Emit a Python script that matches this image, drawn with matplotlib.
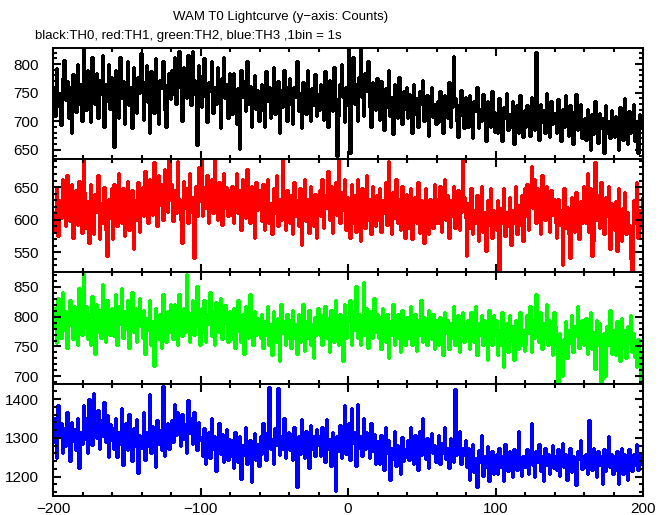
import numpy as np
import matplotlib.pyplot as plt
from matplotlib.ticker import MultipleLocator

plt.rcParams['font.family'] = ['Liberation Sans', 'DejaVu Sans']

# time axis: 1 s bins from -200 s to +200 s
t_edges = np.arange(-200, 201)

th0 = """
757 710 793 750 725 693 775 807 737 770 705 760 680 783 747 717 800 730 765 700
835 767 720 790 745 698 812 760 730 785 705 772 748 815 690 765 735 800 722 778
725 655 790 762 705 812 740 770 695 748 805 728 760 688 795 742 715 778 750 820
770 702 745 798 733 680 788 752 715 810 740 695 772 758 805 720 690 765 785 738
790 748 812 730 775 822 758 700 795 768 740 815 785 728 823 772 745 658 798 760
725 780 810 742 698 768 752 805 715 760 730 795 748 688 775 812 740 765 705 785
760 712 785 738 695 758 652 790 742 770 718 805 730 762 690 748 780 722 755 700
718 765 742 690 788 735 760 705 748 795 712 738 770 680 755 725 790 745 700 762
775 730 695 760 742 805 718 750 688 768 735 712 790 745 700 758 728 782 710 748
720 765 745 702 788 735 690 772 750 718 795 740 640 710 765 800 742 698 760 728
835 645 790 812 730 765 700 778 830 742 710 785 752 805 725 690 768 745 720 775
748 702 770 735 685 758 725 790 710 742 678 765 730 705 778 745 695 752 722 760
705 748 728 680 765 712 740 690 752 730 772 700 718 745 675 738 760 708 730 695
735 698 752 715 680 745 728 705 768 690 725 814 740 700 672 730 755 710 688 742
728 690 745 705 670 735 718 760 688 722 700 748 712 665 735 705 690 752 718 682
715 680 740 698 665 725 705 750 685 712 690 735 660 708 728 680 745 702 672 720
690 728 700 675 742 712 685 821 705 668 730 698 720 680 750 705 672 735 695 715
715 680 738 700 665 722 690 745 705 675 728 692 660 718 748 685 705 730 670 700
705 668 722 690 650 712 678 735 695 662 715 688 705 645 728 680 700 670 720 685
672 710 685 650 725 695 668 740 700 660 718 680 695 730 665 700 645 712 688 705
"""

th1 = """
612 585 648 575 630 602 662 620 590 668 635 598 655 572 618 645 592 660 608 580
693 642 588 628 565 655 600 578 640 612 668 570 625 595 650 585 545 632 602 648
570 655 612 590 672 625 595 648 575 635 660 585 618 645 555 630 600 658 582 625
650 605 675 628 595 662 640 608 688 632 590 668 622 655 600 678 640 612 693 630
655 598 645 610 690 632 600 565 660 618 648 595 672 612 635 542 652 605 680 628
693 605 650 618 668 595 640 662 610 693 630 600 658 635 592 672 618 650 605 645
608 652 595 635 672 610 645 585 662 628 602 678 618 595 652 635 572 658 615 645
635 598 655 585 628 662 595 625 578 648 610 668 590 632 600 693 620 585 645 608
595 638 578 658 605 630 590 648 562 622 662 598 632 580 652 608 590 640 572 625
645 605 662 588 638 618 675 600 652 580 632 658 608 693 595 642 615 662 585 635
630 572 655 595 638 582 662 605 568 648 615 588 668 600 632 578 652 610 590 638
600 648 582 630 610 658 592 690 618 578 642 602 662 595 632 585 652 612 572 640
625 588 648 570 618 635 595 658 580 630 605 565 648 600 578 632 610 588 655 595
632 595 652 582 620 662 600 638 572 630 605 652 588 628 645 585 612 693 635 602
545 625 588 648 578 615 595 638 568 622 652 582 612 552 630 592 648 572 615 595
585 630 522 618 595 648 575 612 590 635 562 615 595 652 578 622 592 638 568 648
605 655 585 640 682 618 662 595 648 608 578 668 625 600 652 615 582 645 608 632
595 572 632 592 615 530 648 588 620 578 542 635 600 582 642 608 570 628 595 652
630 595 672 582 648 545 568 688 600 638 588 658 615 578 635 605 652 555 625 595
585 628 552 648 598 568 618 642 578 612 592 540 522 630 595 658 572 615 588 635
"""

th2 = """
782 815 755 832 798 765 842 778 810 748 802 828 785 762 818 792 752 848 798 770
875 782 818 762 805 752 835 795 738 822 775 812 765 855 790 758 828 802 770 815
802 768 838 752 818 788 848 765 810 780 828 748 802 842 775 815 758 798 832 785
765 812 738 798 778 828 752 792 718 815 782 762 805 748 838 790 758 810 775 822
805 762 822 782 752 838 795 768 815 775 872 808 758 792 828 770 802 852 782 752
815 775 828 758 805 788 842 768 810 752 825 795 775 832 762 802 820 788 758 810
798 762 815 748 792 828 775 758 805 738 818 782 765 838 790 752 810 770 798 775
765 805 748 792 770 818 752 788 735 810 778 758 798 725 822 772 792 752 805 765
795 748 812 765 788 738 805 758 782 822 742 792 765 812 752 788 730 800 770 815
770 805 752 792 818 765 798 740 812 785 758 828 780 752 805 792 725 822 765 800
792 828 752 810 778 852 765 805 752 798 858 770 815 748 792 810 765 832 775 805
765 800 745 815 778 758 805 730 792 770 822 752 788 805 765 740 812 778 752 800
800 765 818 752 788 805 742 795 770 828 758 800 778 752 812 785 762 805 745 795
785 752 800 765 735 808 772 795 745 790 765 818 752 782 802 740 772 808 758 790
765 795 745 808 778 758 818 735 790 770 802 752 795 765 728 812 778 752 802 770
795 735 778 752 808 715 768 790 740 802 760 785 728 795 768 745 808 752 778 742
752 802 772 818 740 795 765 838 778 758 808 745 790 765 822 752 795 772 735 808
785 748 690 772 738 700 762 792 730 778 755 802 740 785 768 818 748 772 795 752
760 798 738 785 808 745 775 712 795 752 790 690 695 772 700 785 752 812 738 778
775 735 792 755 725 798 748 778 730 785 755 802 740 772 732 715 762 722 692 740
"""

th3 = """
1290 1352 1248 1385 1305 1338 1262 1325 1280 1368 1302 1240 1342 1292 1322 1268 1352 1222 1315 1285
1385 1298 1352 1262 1400 1322 1282 1415 1335 1300 1372 1272 1345 1305 1392 1290 1358 1250 1335 1295
1325 1272 1352 1250 1315 1285 1378 1230 1302 1338 1268 1362 1290 1240 1325 1280 1348 1210 1308 1275
1288 1368 1242 1315 1280 1412 1262 1330 1298 1225 1345 1285 1320 1268 1435 1252 1310 1338 1272 1302
1345 1290 1388 1308 1368 1322 1278 1362 1298 1335 1262 1398 1312 1352 1285 1368 1308 1268 1342 1295
1302 1252 1325 1232 1292 1315 1248 1352 1270 1305 1215 1290 1338 1258 1310 1238 1278 1322 1242 1298
1252 1295 1222 1315 1268 1238 1305 1195 1282 1255 1328 1232 1275 1295 1185 1262 1312 1242 1285 1228
1305 1258 1338 1278 1242 1315 1432 1270 1298 1232 1325 1282 1428 1255 1305 1270 1352 1248 1292 1315
1268 1310 1242 1328 1285 1172 1305 1258 1348 1278 1248 1318 1290 1222 1332 1270 1305 1252 1322 1282
1305 1252 1328 1278 1238 1348 1270 1298 1228 1315 1282 1162 1305 1265 1332 1248 1292 1385 1258 1305
1338 1242 1378 1288 1315 1228 1388 1275 1305 1252 1352 1270 1315 1292 1248 1338 1265 1310 1232 1292
1285 1232 1308 1250 1218 1328 1262 1295 1192 1275 1245 1318 1228 1282 1258 1208 1302 1240 1272 1250
1295 1242 1328 1268 1232 1308 1278 1218 1318 1255 1352 1272 1245 1300 1222 1285 1312 1260 1282 1238
1250 1308 1232 1288 1262 1328 1245 1275 1222 1300 1268 1238 1425 1255 1288 1318 1232 1275 1255 1295
1225 1275 1192 1258 1285 1212 1248 1172 1268 1238 1308 1202 1252 1225 1280 1188 1245 1265 1208 1252
1258 1208 1275 1225 1252 1188 1285 1238 1215 1265 1230 1198 1270 1245 1218 1318 1238 1202 1252 1225
1225 1270 1208 1252 1338 1230 1198 1265 1238 1285 1215 1252 1188 1275 1230 1258 1208 1245 1282 1222
1252 1218 1270 1202 1245 1288 1225 1258 1192 1240 1275 1212 1252 1230 1178 1265 1245 1295 1220 1252
1225 1258 1208 1345 1245 1218 1275 1238 1198 1265 1230 1252 1182 1270 1215 1245 1305 1225 1258 1208
1252 1218 1265 1182 1240 1275 1208 1258 1225 1192 1270 1240 1215 1258 1230 1285 1218 1245 1262 1230
"""

series = [th0, th1, th2, th3]
colors = ['black', 'red', '#00ff00', 'blue']
ylims = [(634, 828), (520, 693), (687, 875), (1150, 1439)]
major_y = [50, 50, 50, 100]
minor_y = [10, 10, 10, 20]

# panel edges in pixels from the top of the 669x515 image
W, H = 669, 515
left_px, right_px = 53, 643
edges_px = [48, 159, 272, 384, 496]

fig = plt.figure(figsize=(W / 100, H / 100), dpi=100)

for i, (txt, col) in enumerate(zip(series, colors)):
    vals = np.array(txt.split(), dtype=float)
    top = 1 - edges_px[i] / H
    bot = 1 - edges_px[i + 1] / H
    ax = fig.add_axes([left_px / W, bot, (right_px - left_px) / W, top - bot])
    # crisp, non-antialiased steps like the original plotting package
    ax.stairs(vals, t_edges, baseline=None, color=col, lw=0.9, antialiased=False)
    ax.set_xlim(-200, 200)
    ax.set_ylim(*ylims[i])
    ax.xaxis.set_major_locator(MultipleLocator(100))
    ax.xaxis.set_minor_locator(MultipleLocator(20))
    ax.yaxis.set_major_locator(MultipleLocator(major_y[i]))
    ax.yaxis.set_minor_locator(MultipleLocator(minor_y[i]))
    ax.tick_params(which='both', direction='in', top=True, right=True, width=1.5)
    ax.tick_params(which='major', length=5.5, labelsize=11)
    ax.tick_params(which='minor', length=2.8)
    ax.tick_params(axis='y', pad=10)
    ax.tick_params(axis='x', pad=4)
    if i < 3:
        ax.tick_params(axis='x', labelbottom=False)
    for s in ax.spines.values():
        s.set_linewidth(1.4)

fig.text(173 / W, 1 - 17 / H, 'WAM T0 Lightcurve (y\u2212axis: Counts)',
         ha='left', va='center', fontsize=9.5)
fig.text(35 / W, 1 - 36 / H, 'black:TH0, red:TH1, green:TH2, blue:TH3 ,1bin = 1s',
         ha='left', va='center', fontsize=9.5)

fig.savefig('out.png', dpi=100)
